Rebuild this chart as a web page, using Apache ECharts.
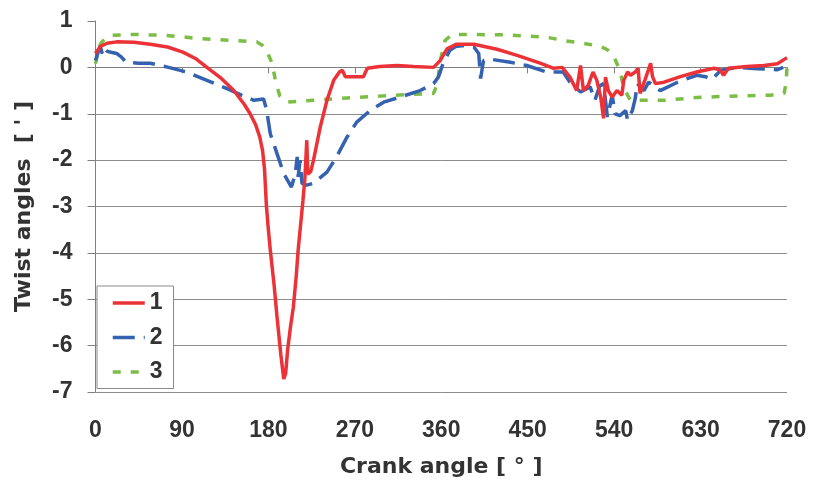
<!DOCTYPE html>
<html>
<head>
<meta charset="utf-8">
<title>Twist angles</title>
<script src="https://cdn.jsdelivr.net/npm/echarts@6.0.0/dist/echarts.min.js"></script>
<style>
    html, body { margin: 0; padding: 0; background: #fff; }
    #chart { width: 818px; height: 485px; }
</style>
</head>
<body>
<div id="chart"></div>
<script>
// series 1 (red, solid)
const crank1 = [0, 5, 12, 22, 40, 57, 75, 91, 105, 116, 130, 144, 155, 161, 167, 171, 174, 176, 178, 180,
    182, 186, 189, 193, 196, 198, 200, 203, 206, 209, 211, 214, 216, 218, 220, 221, 224, 227, 234, 241,
    248, 254, 257, 260, 270, 279, 283, 296, 314, 331, 352, 359, 366, 376, 394, 418, 439, 463, 477, 486,
    494, 501, 505, 508, 513, 518, 522, 526, 529, 531, 534, 538, 543, 548, 550, 554, 557, 562, 565, 567,
    572, 578, 580, 583, 592, 609, 626, 644, 650, 654, 659, 678, 696, 710, 720];
const twist1 = [0.3, 0.45, 0.52, 0.55, 0.54, 0.5, 0.44, 0.33, 0.18, 0.0, -0.22, -0.5, -0.8, -1.0, -1.25, -1.5, -1.8, -2.2, -3.0, -3.5,
    -3.94, -4.7, -5.38, -6.2, -6.72, -6.6, -6.1, -5.6, -5.17, -4.5, -3.94, -3.3, -2.87, -2.4, -1.57, -2.3, -2.25, -2.0, -1.29, -0.71,
    -0.28, -0.1, -0.06, -0.2, -0.2, -0.2, -0.02, 0.02, 0.04, 0.02, 0.0, 0.15, 0.4, 0.5, 0.5, 0.39, 0.26, 0.09, -0.02, 0.0,
    -0.21, -0.5, 0.04, -0.5, -0.39, -0.1, -0.28, -0.64, -1.1, -0.21, -0.5, -0.64, -0.5, -0.6, -0.28, -0.1, -0.17, -0.1, -0.02, -0.56,
    -0.28, 0.09, -0.2, -0.35, -0.32, -0.2, -0.1, -0.02, -0.05, -0.17, -0.02, 0.02, 0.04, 0.08, 0.21];

// series 2 (blue, dashed)
const crank2 = [0, 3, 5, 7, 9, 12, 15, 22, 27, 32, 45, 57, 74, 95, 116, 137, 152, 165, 175, 178,
    182, 189, 196, 204, 208, 210, 211, 213, 215, 220, 227, 241, 251, 262, 272, 286, 300, 317, 338, 352,
    357, 362, 369, 375, 383, 394, 399, 401, 404, 413, 432, 449, 470, 487, 494, 505, 515, 520, 525, 529,
    533, 538, 541, 546, 552, 554, 559, 562, 564, 571, 576, 588, 606, 626, 635, 642, 651, 668, 689, 710, 716];
const twist2 = [0.15, 0.35, 0.45, 0.3, 0.42, 0.35, 0.33, 0.3, 0.22, 0.11, 0.09, 0.09, 0.01, -0.1, -0.28, -0.46, -0.6, -0.71, -0.68, -0.9,
    -1.43, -1.86, -2.29, -2.58, -2.3, -1.93, -2.36, -2.0, -2.5, -2.54, -2.5, -2.26, -1.93, -1.5, -1.18, -0.93, -0.75, -0.64, -0.5, -0.35,
    -0.21, 0.09, 0.37, 0.45, 0.47, 0.44, 0.3, -0.24, 0.15, 0.17, 0.11, 0.04, -0.1, -0.1, -0.32, -0.53, -0.42, -0.71, -0.4, -0.35,
    -1.07, -0.6, -1.0, -1.04, -0.93, -1.14, -0.93, -0.67, -0.35, -0.5, -0.32, -0.5, -0.32, -0.17, -0.2, -0.26, -0.06, 0.0, -0.03, -0.05, 0.0];

// series 3 (green, dotted)
const crank3 = [0, 3, 5, 10, 15, 39, 74, 109, 144, 168, 174, 178, 184, 188, 192, 199, 227, 262, 296, 331,
    352, 356, 359, 364, 371, 390, 428, 470, 487, 508, 526, 533, 539, 546, 550, 557, 592, 626, 661, 703,
    717, 719, 720];
const twist3 = [0.08, 0.35, 0.5, 0.62, 0.69, 0.71, 0.69, 0.62, 0.58, 0.55, 0.47, 0.37, 0.08, -0.35, -0.62, -0.75, -0.71, -0.66, -0.62, -0.58,
    -0.56, -0.35, 0.15, 0.58, 0.71, 0.71, 0.7, 0.65, 0.58, 0.52, 0.45, 0.38, 0.26, -0.06, -0.45, -0.71, -0.71, -0.65, -0.62, -0.6,
    -0.56, -0.35, 0.0];

const xTicks = [0, 90, 180, 270, 360, 450, 540, 630, 720];
const yTicks = [-7, -6, -5, -4, -3, -2, -1, 0, 1];

function pairs (xs, ys) {
    return xs.map((x, i) => [x, ys[i]]);
}

const textColor = "#333";
const labelFont = "Liberation Sans, Arial, sans-serif";
const titleFont = "DejaVu Sans, sans-serif";

function drawTwistChart (domId) {
    const chart = echarts.init(document.getElementById(domId));
    const option = {
        animation: false,
        grid: {
            left: 95.5,
            right: 31,
            top: 21,
            bottom: 93,
            outerBoundsMode: "none"
        },
        legend: {
            data: ["1", "2", "3"],
            orient: "vertical",
            left: 97,
            top: 286,
            padding: [5.5, 11, 5, 14],
            itemGap: 11.5,
            itemWidth: 32,
            itemHeight: 14,
            borderColor: "#8a8a8a",
            borderWidth: 1,
            borderRadius: 0,
            backgroundColor: "#fff",
            // hide the circle that line series put in the legend icon
            itemStyle: { color: "rgba(0,0,0,0)", borderWidth: 0, opacity: 0 },
            lineStyle: { width: 3.5 },
            textStyle: {
                fontFamily: labelFont,
                fontWeight: "bold",
                fontSize: 23,
                lineHeight: 23,
                color: textColor
            }
        },
        xAxis: {
            type: "value",
            min: xTicks[0],
            max: xTicks[xTicks.length - 1],
            interval: 90,
            name: "Crank angle [ ° ]",
            nameLocation: "middle",
            nameGap: 64,
            nameTextStyle: {
                fontFamily: titleFont,
                fontWeight: "bold",
                fontSize: 22,
                color: textColor
            },
            axisLine: { lineStyle: { color: "#808080", width: 1 } },
            axisTick: { length: 6, lineStyle: { color: "#808080" } },
            axisLabel: {
                margin: 27,
                fontFamily: labelFont,
                fontWeight: "bold",
                fontSize: 23,
                color: textColor,
                showMinLabel: true,
                showMaxLabel: true
            },
            splitLine: { show: false }
        },
        yAxis: {
            type: "value",
            min: yTicks[0],
            max: yTicks[yTicks.length - 1],
            interval: 1,
            name: "Twist angles  [ ' ]",
            nameLocation: "middle",
            nameGap: 60,
            nameTextStyle: {
                fontFamily: titleFont,
                fontWeight: "bold",
                fontSize: 22,
                color: textColor
            },
            axisLine: { show: true, lineStyle: { color: "#808080", width: 1 } },
            axisTick: { show: true, length: 8, lineStyle: { color: "#808080" } },
            axisLabel: {
                margin: 23,
                fontFamily: labelFont,
                fontWeight: "bold",
                fontSize: 23,
                color: textColor,
                showMinLabel: true,
                showMaxLabel: true
            },
            splitLine: {
                show: true,
                lineStyle: {
                    // no line at the top tick (1)
                    color: ["#8c8c8c", "#8c8c8c", "#8c8c8c", "#8c8c8c", "#8c8c8c",
                        "#8c8c8c", "#8c8c8c", "#8c8c8c", "rgba(0,0,0,0)"],
                    width: 1
                }
            }
        },
        series: [
            {
                name: "1",
                type: "line",
                data: pairs(crank1, twist1),
                symbol: "none",
                z: 4,
                lineStyle: { color: "#ec3237", width: 3.5, type: "solid" },
                itemStyle: { color: "#ec3237" }
            },
            {
                name: "2",
                type: "line",
                data: pairs(crank2, twist2),
                symbol: "none",
                z: 3,
                lineStyle: { color: "#3462b0", width: 3.5, type: [22, 9] },
                itemStyle: { color: "#3462b0" }
            },
            {
                name: "3",
                type: "line",
                data: pairs(crank3, twist3),
                symbol: "none",
                z: 2,
                lineStyle: { color: "#7cbd45", width: 3.5, type: [8, 10] },
                itemStyle: { color: "#7cbd45" }
            }
        ]
    };
    chart.setOption(option);
    return chart;
}

drawTwistChart("chart");
</script>
</body>
</html>
